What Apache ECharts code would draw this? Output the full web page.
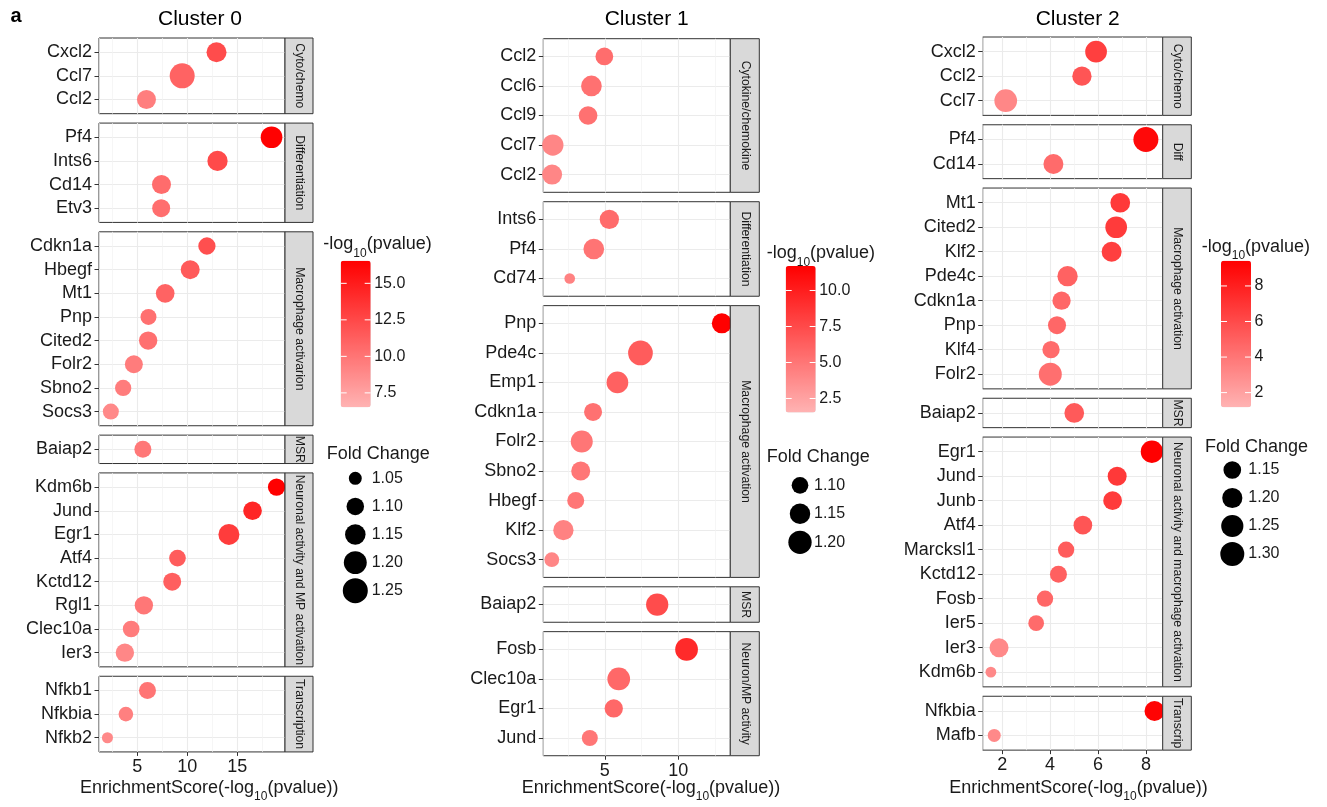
<!DOCTYPE html>
<html>
<head>
<meta charset="utf-8">
<script src="https://cdn.jsdelivr.net/npm/echarts@6/dist/echarts.min.js"></script>
<style>
  html, body { margin: 0; padding: 0; background: #ffffff; }
  #chart { width: 1327px; height: 807px; }
</style>
</head>
<body>
<div id="chart"></div>
<script>
// ---------------- Cluster 0 ----------------
const c0Facets = ['Cyto/chemo', 'Differentiation', 'Macrophage activarion', 'MSR',
  'Neuronal activity and MP activation', 'Transcription'];
const c0Genes = [
  ['Cxcl2', 'Ccl7', 'Ccl2'],
  ['Pf4', 'Ints6', 'Cd14', 'Etv3'],
  ['Cdkn1a', 'Hbegf', 'Mt1', 'Pnp', 'Cited2', 'Folr2', 'Sbno2', 'Socs3'],
  ['Baiap2'],
  ['Kdm6b', 'Jund', 'Egr1', 'Atf4', 'Kctd12', 'Rgl1', 'Clec10a', 'Ier3'],
  ['Nfkb1', 'Nfkbia', 'Nfkb2']
];
const c0Score = [
  [12.93, 9.50, 5.93],
  [18.43, 13.03, 7.43, 7.40],
  [11.97, 10.30, 7.80, 6.13, 6.10, 4.67, 3.60, 2.37],
  [5.57],
  [18.93, 16.53, 14.17, 9.03, 8.50, 5.67, 4.40, 3.77],
  [6.03, 3.87, 2.03]
];
const c0LogP = [
  [12.3, 11.0, 9.5],
  [16.5, 12.4, 10.5, 10.4],
  [12.1, 11.5, 11.0, 10.3, 10.3, 9.6, 9.6, 8.9],
  [9.8],
  [16.55, 14.4, 13.2, 11.4, 11.2, 9.9, 9.6, 9.0],
  [10.0, 9.4, 8.9]
];
const c0FC = [
  [1.140, 1.250, 1.123],
  [1.173, 1.146, 1.123, 1.107],
  [1.097, 1.123, 1.118, 1.080, 1.113, 1.107, 1.084, 1.080],
  [1.093],
  [1.097, 1.118, 1.159, 1.089, 1.107, 1.113, 1.089, 1.113],
  [1.093, 1.065, 1.038]
];
const c0XTicks = [5, 10, 15];
const c0ColorTicks = ['7.5', '10.0', '12.5', '15.0'];
const c0SizeTicks = ['1.05', '1.10', '1.15', '1.20', '1.25'];

// ---------------- Cluster 1 ----------------
const c1Facets = ['Cytokine/chemokine', 'Differentiation', 'Macrophage activation', 'MSR',
  'Neuron/MP activity'];
const c1Genes = [
  ['Ccl2', 'Ccl6', 'Ccl9', 'Ccl7', 'Ccl2'],
  ['Ints6', 'Pf4', 'Cd74'],
  ['Pnp', 'Pde4c', 'Emp1', 'Cdkn1a', 'Folr2', 'Sbno2', 'Hbegf', 'Klf2', 'Socs3'],
  ['Baiap2'],
  ['Fosb', 'Clec10a', 'Egr1', 'Jund']
];
const c1Score = [
  [4.97, 4.09, 3.86, 1.46, 1.41],
  [5.31, 4.25, 2.61],
  [12.97, 7.43, 5.86, 4.20, 3.43, 3.36, 3.02, 2.18, 1.39],
  [8.57],
  [10.57, 5.95, 5.61, 3.98]
];
const c1LogP = [
  [5.5, 5.3, 5.3, 4.1, 4.1],
  [5.6, 5.1, 4.3],
  [11.7, 6.5, 6.2, 5.3, 5.0, 5.0, 5.0, 4.3, 4.1],
  [7.4],
  [9.3, 5.8, 5.8, 5.0]
];
const c1FC = [
  [1.112, 1.154, 1.125, 1.164, 1.143],
  [1.133, 1.154, 1.056],
  [1.143, 1.228, 1.171, 1.116, 1.176, 1.129, 1.103, 1.148, 1.081],
  [1.181],
  [1.189, 1.189, 1.119, 1.093]
];
const c1XTicks = [5, 10];
const c1ColorTicks = ['2.5', '5.0', '7.5', '10.0'];
const c1SizeTicks = ['1.10', '1.15', '1.20'];

// ---------------- Cluster 2 ----------------
const c2Facets = ['Cyto/chemo', 'Diff', 'Macrophage activation', 'MSR',
  'Neuronal activity and macrophage activation', 'Transcrip'];
const c2Genes = [
  ['Cxcl2', 'Ccl2', 'Ccl7'],
  ['Pf4', 'Cd14'],
  ['Mt1', 'Cited2', 'Klf2', 'Pde4c', 'Cdkn1a', 'Pnp', 'Klf4', 'Folr2'],
  ['Baiap2'],
  ['Egr1', 'Jund', 'Junb', 'Atf4', 'Marcksl1', 'Kctd12', 'Fosb', 'Ier5', 'Ier3', 'Kdm6b'],
  ['Nfkbia', 'Mafb']
];
const c2Score = [
  [5.92, 5.33, 2.15],
  [8.00, 4.14],
  [6.93, 6.76, 6.57, 4.73, 4.48, 4.29, 4.04, 4.01],
  [5.01],
  [8.25, 6.80, 6.61, 5.37, 4.67, 4.35, 3.79, 3.42, 1.87, 1.53],
  [8.36, 1.67]
];
const c2LogP = [
  [6.5, 5.5, 3.2],
  [9.0, 4.5],
  [6.8, 6.7, 6.5, 4.9, 4.7, 4.7, 4.5, 4.3],
  [5.3],
  [9.42, 6.8, 6.7, 5.5, 5.2, 5.0, 4.7, 4.5, 3.1, 3.1],
  [9.3, 3.1]
];
const c2FC = [
  [1.237, 1.181, 1.263],
  [1.330, 1.196],
  [1.190, 1.237, 1.196, 1.203, 1.161, 1.156, 1.143, 1.271],
  [1.190],
  [1.252, 1.175, 1.170, 1.169, 1.127, 1.138, 1.127, 1.118, 1.175, 1.069],
  [1.196, 1.086]
];
const c2XTicks = [2, 4, 6, 8];
const c2ColorTicks = ['2', '4', '6', '8'];
const c2SizeTicks = ['1.15', '1.20', '1.25', '1.30'];

// ---------------- styling / layout ----------------
const FONT = '"Liberation Sans", Arial, Helvetica, sans-serif';
const INK = '#1A1A1A';
const BORDER = '#333333';
const GRID_MAJOR = '#EBEBEB';
const GRID_MINOR = '#F2F2F2';
const STRIP_FILL = '#D9D9D9';
const COLOR_LOW = '#FFB3B3';
const COLOR_HIGH = '#FF0000';
const SIZE_RANGE = [7.8, 25.4];
const CBAR_W = 30, CBAR_H = 146.5;

const panels = [
  {
    title: 'Cluster 0', facets: c0Facets, genes: c0Genes, score: c0Score, logp: c0LogP, fc: c0FC,
    xTicks: c0XTicks, majorStep: 5, minorStep: 2.5,
    colorTicks: c0ColorTicks, colorRange: [6.52, 16.55],
    sizeTicks: c0SizeTicks, fcDomain: [1.03, 1.26],
    box: { left: 99, right: 285, strip: 28, top: 38, unit: 23.65, gap: 9.4 },
    titleX: 200, axisTitleX: 80,
    cbar: { left: 340.7, top: 260.7, titleX: 323.3, titleY: 244.3 },
    sizeLeg: { cx: 355.3, labelX: 371.7, titleX: 326.7, titleY: 454, y0: 478.3, step: 28.1 }
  },
  {
    title: 'Cluster 1', facets: c1Facets, genes: c1Genes, score: c1Score, logp: c1LogP, fc: c1FC,
    xTicks: c1XTicks, majorStep: 5, minorStep: 2.5,
    colorTicks: c1ColorTicks, colorRange: [1.53, 11.7],
    sizeTicks: c1SizeTicks, fcDomain: [1.051, 1.243],
    box: { left: 543.3, right: 730.3, strip: 29, top: 38.7, unit: 29.54, gap: 9.4 },
    titleX: 646.7, axisTitleX: 521.7,
    cbar: { left: 785.7, top: 266, titleX: 766.7, titleY: 253.3 },
    sizeLeg: { cx: 800, labelX: 814, titleX: 766.7, titleY: 456.7, y0: 485.3, step: 28.5 }
  },
  {
    title: 'Cluster 2', facets: c2Facets, genes: c2Genes, score: c2Score, logp: c2LogP, fc: c2FC,
    xTicks: c2XTicks, majorStep: 2, minorStep: 1,
    colorTicks: c2ColorTicks, colorRange: [1.18, 9.42],
    sizeTicks: c2SizeTicks, fcDomain: [1.061, 1.343],
    box: { left: 982.7, right: 1162.7, strip: 28.6, top: 37, unit: 24.49, gap: 9.4 },
    titleX: 1077.7, axisTitleX: 949.3,
    cbar: { left: 1221, top: 260.7, titleX: 1201.7, titleY: 246.7 },
    sizeLeg: { cx: 1232.3, labelX: 1248.3, titleX: 1205, titleY: 446.7, y0: 470, step: 28 }
  }
];

function pointSize(fc, dom) {
  const t = Math.max(0, Math.min(1, (fc - dom[0]) / (dom[1] - dom[0])));
  return SIZE_RANGE[0] + (SIZE_RANGE[1] - SIZE_RANGE[0]) * Math.sqrt(t);
}

const measureCtx = document.createElement('canvas').getContext('2d');
function textWidth(str, size) {
  measureCtx.font = size + 'px ' + FONT;
  return measureCtx.measureText(str).width;
}

// text with a "10" subscript, starting at x (left aligned), vertically centred on y
function subscriptText(x, y, before, sub, after, size) {
  const subSize = Math.round(size * 0.64);
  const w1 = textWidth(before, size);
  const w2 = textWidth(sub, subSize);
  const base = { fill: INK, fontFamily: FONT, align: 'left', verticalAlign: 'middle' };
  return [
    { type: 'text', x: x, y: y, silent: true, style: Object.assign({ text: before, fontSize: size }, base) },
    { type: 'text', x: x + w1, y: y + size * 0.5, silent: true, style: Object.assign({ text: sub, fontSize: subSize }, base) },
    { type: 'text', x: x + w1 + w2, y: y, silent: true, style: Object.assign({ text: after, fontSize: size }, base) }
  ];
}

const grids = [], xAxes = [], yAxes = [], series = [], graphics = [], visualMaps = [];

graphics.push({ type: 'text', x: 16, y: 16, silent: true,
  style: { text: 'a', fontSize: 20, fontWeight: 'bold', fontFamily: FONT, fill: '#000', align: 'center', verticalAlign: 'middle' } });

panels.forEach(function (p) {
  const b = p.box;
  // x range: data range expanded by 5% on each side
  const allX = [].concat.apply([], p.score);
  const lo = Math.min.apply(null, allX), hi = Math.max.apply(null, allX);
  const pad = (hi - lo) * 0.05;
  const xMin = lo - pad, xMax = hi + pad;

  const seriesIdx = [];
  let top = b.top;
  p.facets.forEach(function (facet, f) {
    const genes = p.genes[f];
    const n = genes.length;
    const height = (n + 0.2) * b.unit;
    const isLast = f === p.facets.length - 1;
    const gi = grids.length;
    grids.push({
      left: b.left, top: top, width: b.right - b.left, height: height,
      show: true, borderColor: BORDER, borderWidth: 1, backgroundColor: '#ffffff',
      containLabel: false, outerBoundsMode: 'none'
    });
    // minor vertical grid lines
    xAxes.push({
      gridIndex: gi, type: 'value', position: 'bottom', min: xMin, max: xMax,
      minInterval: p.minorStep, maxInterval: p.minorStep,
      axisLine: { show: false }, axisTick: { show: false }, axisLabel: { show: false },
      splitLine: { show: true, lineStyle: { color: GRID_MINOR, width: 0.7 } }
    });
    // major axis
    const majorIdx = xAxes.length;
    xAxes.push({
      gridIndex: gi, type: 'value', position: 'bottom', offset: 0, min: xMin, max: xMax,
      minInterval: p.majorStep, maxInterval: p.majorStep,
      axisLine: { show: false },
      axisTick: { show: isLast, length: 4, lineStyle: { color: BORDER, width: 1 }, customValues: p.xTicks },
      axisLabel: { show: isLast, customValues: p.xTicks, fontSize: 18, color: INK, fontFamily: FONT, margin: 6 },
      splitLine: { show: true, lineStyle: { color: GRID_MAJOR, width: 1.1 } }
    });
    const idx = genes.map(function (g, i) { return i + 1; });
    const yi = yAxes.length;
    yAxes.push({
      gridIndex: gi, type: 'value', position: 'left', inverse: true, min: 0.4, max: n + 0.6,
      minInterval: 1, maxInterval: 1,
      axisLine: { show: false },
      axisTick: { show: true, length: 4.5, lineStyle: { color: BORDER, width: 1 }, customValues: idx },
      axisLabel: {
        customValues: idx, fontSize: 18, color: INK, fontFamily: FONT, margin: 7,
        formatter: (function (list) { return function (v) { return list[Math.round(v) - 1] || ''; }; })(genes)
      },
      splitLine: { show: true, lineStyle: { color: GRID_MAJOR, width: 1.1 } }
    });
    const data = genes.map(function (g, i) {
      return [p.score[f][i], i + 1, p.logp[f][i], p.fc[f][i], g];
    });
    seriesIdx.push(series.length);
    series.push({
      type: 'scatter', name: p.title + ' ' + facet, xAxisIndex: majorIdx, yAxisIndex: yi,
      data: data, symbol: 'circle', clip: true, z: 3,
      symbolSize: (function (dom) { return function (v) { return pointSize(v[3], dom); }; })(p.fcDomain),
      itemStyle: { opacity: 1 },
      emphasis: { disabled: true }
    });
    // facet strip
    graphics.push({
      type: 'rect', silent: true, z: 10,
      shape: { x: b.right, y: top, width: b.strip, height: height },
      style: { fill: STRIP_FILL, stroke: BORDER, lineWidth: 1 }
    });
    graphics.push({
      type: 'text', silent: true, z: 11,
      x: b.right + b.strip / 2 + 0.5, y: top + height / 2, rotation: -Math.PI / 2,
      style: { text: facet, fontSize: 12.2, fontFamily: FONT, fill: INK, align: 'center', verticalAlign: 'middle' }
    });
    top += height + b.gap;
  });

  // cluster title
  graphics.push({ type: 'text', x: p.titleX, y: 19, silent: true,
    style: { text: p.title, fontSize: 21, fontFamily: FONT, fill: '#000', align: 'center', verticalAlign: 'middle' } });
  // x axis title
  subscriptText(p.axisTitleX, 788, 'EnrichmentScore(-log', '10', '(pvalue))', 18).forEach(function (e) { graphics.push(e); });

  // colour bar
  const c = p.cbar;
  visualMaps.push({
    type: 'continuous', seriesIndex: seriesIdx, dimension: 2,
    min: p.colorRange[0], max: p.colorRange[1],
    inRange: { color: [COLOR_LOW, COLOR_HIGH] },
    calculable: false, hoverLink: false, realtime: false,
    left: c.left, top: c.top, itemWidth: CBAR_W, itemHeight: CBAR_H, padding: 0,
    text: null, showLabel: false
  });
  subscriptText(c.titleX, c.titleY, '-log', '10', '(pvalue)', 18).forEach(function (e) { graphics.push(e); });
  p.colorTicks.forEach(function (lab) {
    const v = parseFloat(lab);
    const y = c.top + (p.colorRange[1] - v) / (p.colorRange[1] - p.colorRange[0]) * CBAR_H;
    graphics.push({ type: 'line', silent: true, z: 20, shape: { x1: c.left, y1: y, x2: c.left + 6, y2: y }, style: { stroke: '#ffffff', lineWidth: 1 } });
    graphics.push({ type: 'line', silent: true, z: 20, shape: { x1: c.left + CBAR_W - 6, y1: y, x2: c.left + CBAR_W, y2: y }, style: { stroke: '#ffffff', lineWidth: 1 } });
    graphics.push({ type: 'text', silent: true, x: c.left + CBAR_W + 3.5, y: y,
      style: { text: lab, fontSize: 16, fontFamily: FONT, fill: INK, align: 'left', verticalAlign: 'middle' } });
  });

  // size legend
  const s = p.sizeLeg;
  graphics.push({ type: 'text', silent: true, x: s.titleX, y: s.titleY,
    style: { text: 'Fold Change', fontSize: 18, fontFamily: FONT, fill: INK, align: 'left', verticalAlign: 'middle' } });
  p.sizeTicks.forEach(function (lab, i) {
    const y = s.y0 + i * s.step;
    graphics.push({ type: 'circle', silent: true, shape: { cx: s.cx, cy: y, r: pointSize(parseFloat(lab), p.fcDomain) / 2 }, style: { fill: '#000' } });
    graphics.push({ type: 'text', silent: true, x: s.labelX, y: y,
      style: { text: lab, fontSize: 16, fontFamily: FONT, fill: INK, align: 'left', verticalAlign: 'middle' } });
  });
});

const chart = echarts.init(document.getElementById('chart'), null, { renderer: 'canvas' });
chart.setOption({
  animation: false,
  backgroundColor: '#ffffff',
  textStyle: { fontFamily: FONT },
  grid: grids,
  xAxis: xAxes,
  yAxis: yAxes,
  visualMap: visualMaps,
  series: series,
  graphic: { elements: graphics }
});
</script>
</body>
</html>
